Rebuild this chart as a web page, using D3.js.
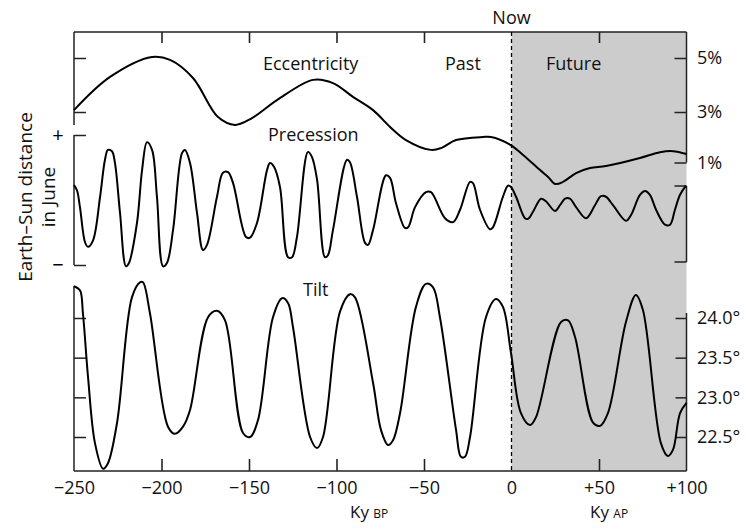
<!DOCTYPE html>
<html>
<head>
<meta charset="utf-8">
<script src="https://cdn.jsdelivr.net/npm/d3@7"></script>
<style>
  html, body { margin: 0; padding: 0; background: #fff; }
  svg { display: block; font-family: "Open Sans", "Noto Sans", sans-serif; }
</style>
</head>
<body>
<svg id="chart" width="746" height="530"></svg>
<script>
// ---- Data (time in ky, negative = before present) ----
const eccYears = [-250,-229.4,-205.4,-195.1,-182,-167.7,-158,-148.3,-134,-113.4,-102,-90.6,-79.1,-69.4,-60.3,-46,-40.3,-31.7,-16.3,-11.7,-0.9,6.6,16.3,20.9,24.9,29.4,36.9,44.9,54,73.4,84.9,92.3,100];
const eccValues = [3.07,4.30,5.04,4.93,4.26,2.80,2.49,2.76,3.44,4.19,4.07,3.56,3.07,2.41,1.89,1.50,1.57,1.89,2.01,2.01,1.71,1.30,0.70,0.43,0.15,0.23,0.58,0.78,0.86,1.18,1.41,1.45,1.34];

const precYears = [-250,-248.3,-246.6,-243.7,-242,-239.1,-235.1,-232.3,-230.6,-228.3,-226.6,-223.7,-220.3,-218.6,-214,-211.1,-208.3,-205.4,-202.6,-199.1,-196.9,-193.4,-188.3,-186.6,-183.7,-179.7,-176.3,-174,-168.3,-164.9,-162,-159.1,-151.7,-149.4,-145.4,-139.7,-138,-135.7,-132.3,-127.7,-125.4,-122.6,-116.3,-114,-111.1,-106.6,-104.9,-102,-94,-92.3,-88.3,-83.7,-82,-79.1,-71.7,-69.4,-66,-60.9,-59.1,-55.1,-48.9,-46,-38,-33.4,-29.4,-23.7,-22,-18,-12.3,-10.6,-4.9,-2,-0.3,2.6,7.7,9.4,12.3,16.9,19.7,24.9,27.7,30.6,33.4,36.9,42.6,47.7,51.1,54,58,65.4,68.3,73.4,76.3,79.1,82.6,87.7,90.6,93.4,96.3,99.7];
const precValues = [0.23,0.15,-0.11,-0.65,-0.72,-0.62,0.05,0.62,0.77,0.75,0.57,-0.20,-1.02,-0.97,-0.35,0.46,0.89,0.77,0.05,-1.02,-0.97,-0.46,0.72,0.77,0.57,-0.20,-0.77,-0.69,0.05,0.42,0.43,0.26,-0.57,-0.58,-0.35,0.46,0.57,0.51,0.20,-0.88,-0.88,-0.57,0.74,0.66,0.31,-0.88,-0.85,-0.46,0.62,0.58,0.05,-0.66,-0.69,-0.46,0.38,0.34,-0.05,-0.43,-0.42,-0.11,0.12,0.12,-0.28,-0.34,-0.15,0.28,0.26,-0.15,-0.45,-0.42,0.05,0.22,0.20,0.05,-0.28,-0.29,-0.18,0.02,-0.02,-0.17,-0.08,0.02,0.02,-0.11,-0.28,-0.08,0.06,0.05,-0.08,-0.32,-0.23,0.08,0.14,0.08,-0.15,-0.38,-0.38,-0.15,0.08,0.22];

const tiltYears = [-250,-246.6,-244.9,-242,-238,-233.4,-230.6,-225.4,-216.9,-212.3,-210.6,-206.6,-196.3,-192.3,-187.7,-183.7,-173.4,-168.3,-163.7,-153.4,-149.4,-144.9,-136.3,-131.1,-127.7,-124.9,-115.1,-111.1,-107.7,-98,-92.3,-89.4,-79.1,-74.6,-70.6,-67.7,-63.7,-54.6,-48.9,-44.9,-40.9,-31.7,-28.9,-26.6,-23.7,-14.6,-8.9,-4.9,-0.3,5.4,10.6,14,28.3,32.3,36.3,46.6,50.6,55.1,65.4,71.1,75.1,85.4,89.4,92.3,96.3,100];
const tiltValues = [24.40,24.35,24.06,23.26,22.42,22.10,22.17,22.68,24.26,24.45,24.45,24.06,22.63,22.54,22.63,22.84,24.01,24.09,23.97,22.55,22.50,22.71,24.01,24.25,24.19,23.89,22.50,22.36,22.50,24.08,24.30,24.26,23.18,22.59,22.40,22.46,22.80,24.14,24.43,24.39,24.01,22.59,22.25,22.25,22.50,24.01,24.24,24.14,23.56,22.80,22.65,22.75,23.95,23.97,23.76,22.68,22.64,22.80,23.95,24.29,24.10,22.42,22.26,22.34,22.80,22.93];

const xTickValues = [-250,-200,-150,-100,-50,0,50,100];
const xTickLabels = ["\u2212250","\u2212200","\u2212150","\u2212100","\u221250","0","+50","+100"];
const innerTickValues = [-200,-150,-100,-50,50];
const eccTicks = [5,3,1];
const eccTickLabels = ["5%","3%","1%"];
const eccLeftTicks = [5,3];
const tiltTicks = [24.0,23.5,23.0,22.5];
const tiltTickLabels = ["24.0\u00b0","23.5\u00b0","23.0\u00b0","22.5\u00b0"];

// ---- Layout ----
const L = 74, R = 686.5, T = 32, B = 471;
const svg = d3.select("#chart");
const FONT = 18;

const x = d3.scaleLinear().domain([-250, 100]).range([L, R]);
const yEcc = d3.scaleLinear().domain([1, 3, 5]).range([162.5, 112, 58]);
const yPrec = d3.scaleLinear().domain([-1, 1]).range([265, 135]);
const yTilt = d3.scaleLinear().domain([22.5, 24]).range([437, 318]);

// Future shading
svg.append("rect")
  .attr("x", x(0)).attr("y", T)
  .attr("width", x(100) - x(0)).attr("height", B - T)
  .attr("fill", "#cccccc");

const axisColor = "#222";
const line = (x1, y1, x2, y2, w = 1.5, c = axisColor) =>
  svg.append("line").attr("x1", x1).attr("y1", y1).attr("x2", x2).attr("y2", y2)
    .attr("stroke", c).attr("stroke-width", w);

// Frame lines
line(L, T, R, T);
line(L, B, R, B);
line(L, T, L, 125);              // ecc left
line(R, T, R, yEcc(1));          // ecc right
line(L, yPrec(1), L, yPrec(-1)); // precession left bracket
line(R, 186, R, 262);            // precession right bracket
line(R, 186, R - 12, 186);
line(R, 262, R - 12, 262);
line(L, 286, L, B);              // tilt left
line(R, 313, R, B);              // tilt right

// Top inner ticks
const topAxis = svg.append("g").attr("transform", `translate(0,${T})`)
  .call(d3.axisBottom(x).tickValues(innerTickValues).tickSize(11).tickFormat(""));
// Bottom inner ticks
const botAxis = svg.append("g").attr("transform", `translate(0,${B})`)
  .call(d3.axisTop(x).tickValues(innerTickValues).tickSize(12).tickFormat(""));
// Bottom labels
const botLabels = svg.append("g").attr("transform", `translate(0,${B})`)
  .call(d3.axisBottom(x).tickValues(xTickValues).tickSize(0).tickPadding(10)
    .tickFormat((d, i) => xTickLabels[i]));
[topAxis, botAxis, botLabels].forEach(g => {
  g.select(".domain").remove();
  g.selectAll(".tick line").attr("stroke", axisColor).attr("stroke-width", 1.6);
  g.selectAll("text").attr("font-size", FONT).attr("fill", "#111")
    .attr("font-family", "'Open Sans', 'Noto Sans', sans-serif");
});

// Eccentricity right axis
const eccAxis = svg.append("g").attr("transform", `translate(${R},0)`)
  .call(d3.axisLeft(yEcc).tickValues(eccTicks).tickSize(12).tickFormat(""));
eccAxis.select(".domain").remove();
eccAxis.selectAll(".tick line").attr("stroke", axisColor).attr("stroke-width", 1.5);
svg.append("g").selectAll("text").data(eccTicks).join("text")
  .attr("x", 697).attr("y", d => yEcc(d)).attr("dy", "0.35em")
  .attr("font-size", FONT).attr("fill", "#111")
  .text((d, i) => eccTickLabels[i]);
// Eccentricity left ticks
const eccLeft = svg.append("g").attr("transform", `translate(${L},0)`)
  .call(d3.axisRight(yEcc).tickValues(eccLeftTicks).tickSize(12).tickFormat(""));
eccLeft.select(".domain").remove();
eccLeft.selectAll(".tick line").attr("stroke", axisColor).attr("stroke-width", 1.5);

// Precession left bracket ticks
const precLeft = svg.append("g").attr("transform", `translate(${L},0)`)
  .call(d3.axisRight(yPrec).tickValues([-1, 1]).tickSize(12).tickFormat(""));
precLeft.select(".domain").remove();
precLeft.selectAll(".tick line").attr("stroke", axisColor).attr("stroke-width", 1.5);
svg.append("text").attr("x", 58).attr("y", yPrec(1)).attr("dy", "0.35em")
  .attr("text-anchor", "middle").attr("font-size", 20).text("+");
svg.append("text").attr("x", 58).attr("y", yPrec(-1)).attr("dy", "0.35em")
  .attr("text-anchor", "middle").attr("font-size", 20).text("\u2212");

// Tilt axes
const tiltRight = svg.append("g").attr("transform", `translate(${R},0)`)
  .call(d3.axisLeft(yTilt).tickValues(tiltTicks).tickSize(11).tickFormat(""));
tiltRight.select(".domain").remove();
tiltRight.selectAll(".tick line").attr("stroke", axisColor).attr("stroke-width", 1.5);
const tiltLeft = svg.append("g").attr("transform", `translate(${L},0)`)
  .call(d3.axisRight(yTilt).tickValues(tiltTicks).tickSize(12).tickFormat(""));
tiltLeft.select(".domain").remove();
tiltLeft.selectAll(".tick line").attr("stroke", axisColor).attr("stroke-width", 1.5);
svg.append("g").selectAll("text").data(tiltTicks).join("text")
  .attr("x", 697).attr("y", d => yTilt(d)).attr("dy", "0.35em")
  .attr("font-size", FONT).attr("fill", "#111")
  .text((d, i) => tiltTickLabels[i]);

// Now dashed line
svg.append("line").attr("x1", x(0)).attr("x2", x(0)).attr("y1", T).attr("y2", B)
  .attr("stroke", "#000").attr("stroke-width", 1.3).attr("stroke-dasharray", "4,3");

// Curves
const drawCurve = (xs, ys, yScale) => {
  const pts = xs.map((d, i) => [d, ys[i]]);
  svg.append("path").datum(pts)
    .attr("fill", "none").attr("stroke", "#000").attr("stroke-width", 2)
    .attr("stroke-linejoin", "round")
    .attr("d", d3.line().x(d => x(d[0])).y(d => yScale(d[1])).curve(d3.curveCatmullRom.alpha(0.5)));
};
drawCurve(eccYears, eccValues, yEcc);
drawCurve(precYears, precValues, yPrec);
drawCurve(tiltYears, tiltValues, yTilt);

// Labels
const label = (t, xx, yy, anchor = "start", size = FONT) =>
  svg.append("text").attr("x", xx).attr("y", yy).attr("text-anchor", anchor)
    .attr("font-size", size).attr("fill", "#111").text(t);
label("Now", x(0), 24, "middle");
label("Eccentricity", 263, 70);
label("Past", 445, 70);
label("Future", 546, 70);
label("Precession", 268, 141);
label("Tilt", 303, 296);

// X axis titles
const kyBP = svg.append("text").attr("x", 350).attr("y", 518).attr("font-size", 17).attr("fill", "#111");
kyBP.append("tspan").text("Ky ");
kyBP.append("tspan").attr("font-size", 12).text("BP");
const kyAP = svg.append("text").attr("x", 590).attr("y", 518).attr("font-size", 17).attr("fill", "#111");
kyAP.append("tspan").text("Ky ");
kyAP.append("tspan").attr("font-size", 12).text("AP");

// Y axis title
const yt = svg.append("text").attr("transform", "translate(32,197) rotate(-90)")
  .attr("text-anchor", "middle").attr("font-size", 19).attr("fill", "#111");
yt.append("tspan").attr("x", 0).attr("y", 0).text("Earth\u2013Sun distance");
yt.append("tspan").attr("x", 0).attr("y", 23).text("in June");
</script>
</body>
</html>
